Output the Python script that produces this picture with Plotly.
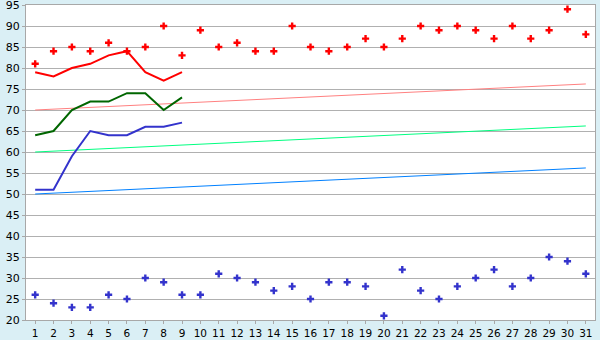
import plotly.graph_objects as go

days = list(range(1, 32))
high_points = [81, 84, 85, 84, 86, 84, 85, 90, 83, 89, 85, 86, 84, 84, 90, 85, 84, 85, 87, 85,
               87, 90, 89, 90, 89, 87, 90, 87, 89, 94, 88]
low_points = [26, 24, 23, 23, 26, 25, 30, 29, 26, 26, 31, 30, 29, 27, 28, 25, 29, 29, 28, 21,
              32, 27, 25, 28, 30, 32, 28, 30, 35, 34, 31]
line_days = list(range(1, 10))
red_line = [79, 78, 80, 81, 83, 84, 79, 77, 79]
green_line = [64, 65, 70, 72, 72, 74, 74, 70, 73]
blue_line = [51, 51, 59, 65, 64, 64, 66, 66, 67]
trend_days = [1, 31]
red_trend = [70, 76.2]
green_trend = [60, 66.2]
blue_trend = [50, 56.2]
y_ticks = list(range(20, 100, 5))

fig = go.Figure()
fig.add_trace(go.Scatter(x=trend_days, y=red_trend, mode="lines", line=dict(color="#ff8080", width=1)))
fig.add_trace(go.Scatter(x=trend_days, y=green_trend, mode="lines", line=dict(color="#00ff80", width=1)))
fig.add_trace(go.Scatter(x=trend_days, y=blue_trend, mode="lines", line=dict(color="#0080ff", width=1)))
fig.add_trace(go.Scatter(x=line_days, y=red_line, mode="lines", line=dict(color="#ff0000", width=2)))
fig.add_trace(go.Scatter(x=line_days, y=green_line, mode="lines", line=dict(color="#006600", width=2)))
fig.add_trace(go.Scatter(x=line_days, y=blue_line, mode="lines", line=dict(color="#3333cc", width=2)))
fig.add_trace(go.Scatter(x=days, y=high_points, mode="markers",
                         marker=dict(symbol="cross", size=6, color="#ff0000", line=dict(width=0))))
fig.add_trace(go.Scatter(x=days, y=low_points, mode="markers",
                         marker=dict(symbol="cross", size=6, color="#3333cc", line=dict(width=0))))

fig.update_layout(
    width=600, height=340,
    margin=dict(l=26, r=5, t=5, b=20),
    paper_bgcolor="#daeff5",
    plot_bgcolor="#ffffff",
    showlegend=False,
    font=dict(family="DejaVu Sans", size=11, color="#000000"),
)
fig.update_xaxes(range=[0.5, 31.5], tickvals=days, ticktext=[str(d) for d in days],
                 showgrid=False, zeroline=False, showline=True, linecolor="#a8a8a8", linewidth=1,
                 mirror=True, ticks="outside", ticklen=3, tickcolor="#a8a8a8", tickfont=dict(size=10.5),
                 ticklabeloverflow="allow", automargin=False)
fig.update_yaxes(range=[20, 95], tickvals=y_ticks, showgrid=True, gridcolor="#b0b0b0", gridwidth=1,
                 zeroline=False, showline=True, linecolor="#a8a8a8", linewidth=1, mirror=True,
                 ticks="outside", ticklen=3, tickcolor="#a8a8a8", tickfont=dict(size=11),
                 ticklabeloverflow="allow", automargin=False)

fig.write_html("out.html")
